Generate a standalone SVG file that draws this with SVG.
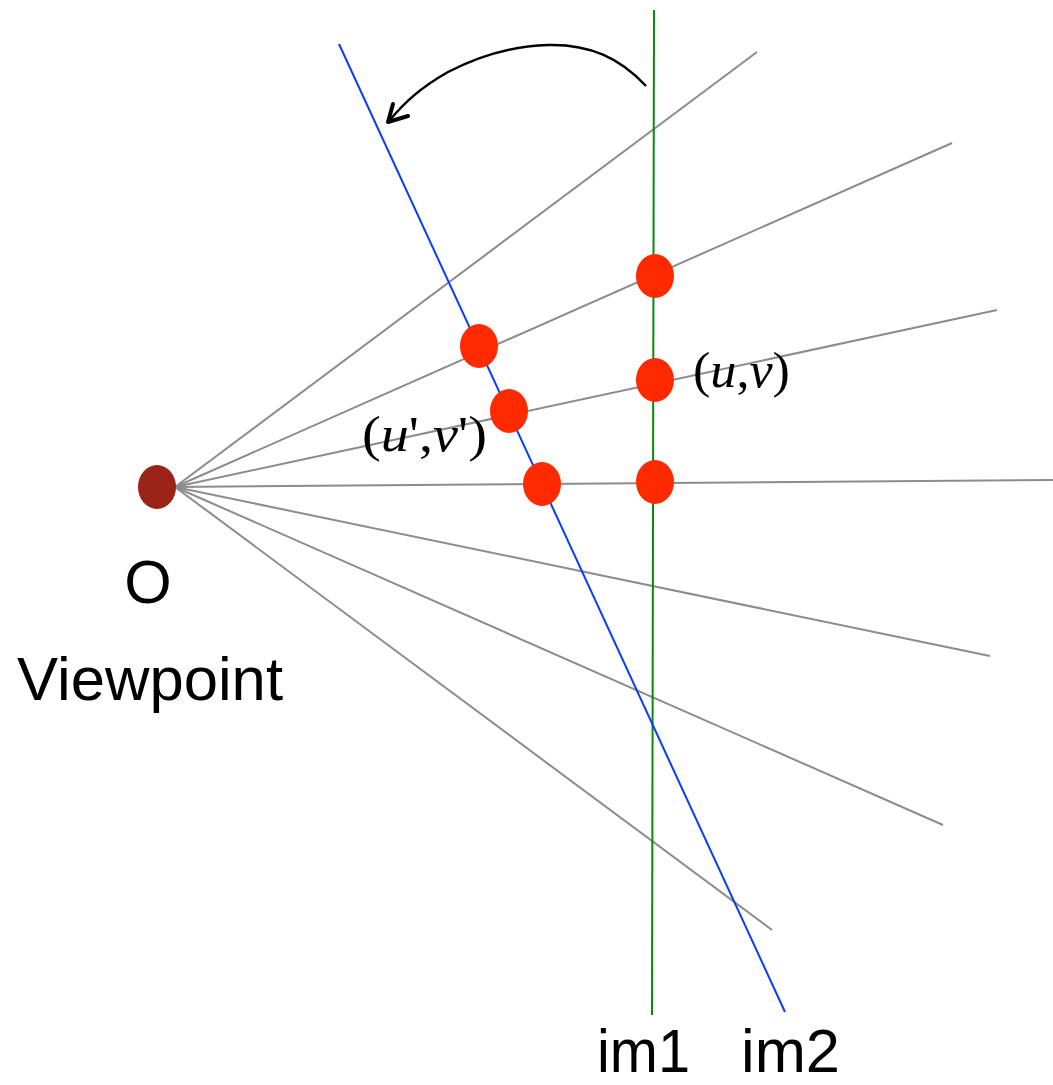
<svg xmlns="http://www.w3.org/2000/svg" width="1053" height="1085" viewBox="0 0 1053 1085">
<style>
.ray{stroke:#8c8c8c;stroke-width:2;fill:none}
.pt{fill:#ff2a00}
.lbl{font-family:"Liberation Sans",Arial,sans-serif;font-size:61px;fill:#000}
.math{font-family:"Liberation Serif","Times New Roman",serif;font-size:50px;fill:#000}
</style>
<rect width="1053" height="1085" fill="#fff"/>
<g id="connectors">
<line class="ray" x1="175" y1="487" x2="757" y2="52"/>
<line class="ray" x1="175" y1="487" x2="952" y2="143"/>
<line class="ray" x1="175" y1="487" x2="997" y2="310"/>
<line class="ray" x1="175" y1="487" x2="1053" y2="480"/>
<line class="ray" x1="175" y1="487" x2="990" y2="656"/>
<line class="ray" x1="175" y1="487" x2="943" y2="825"/>
<line class="ray" x1="175" y1="487" x2="772" y2="930"/>
<line id="im1-line" x1="654" y1="10" x2="652" y2="1015" stroke="#0a8a0a" stroke-width="2"/>
<line id="im2-line" x1="339" y1="44" x2="785" y2="1012" stroke="#0a3cff" stroke-width="2"/>
<path id="rotation-arrow" d="M646,86 C620,58 590,44 548,45 C510,46 475,58 448,72 C420,88 405,102 389,121" fill="none" stroke="#000" stroke-width="2.5"/>
<path d="M393,104 L388,122 L408,116" fill="none" stroke="#000" stroke-width="4" stroke-linecap="round" stroke-linejoin="round"/>
</g>
<g id="viewpoint"><ellipse cx="157" cy="487" rx="19" ry="22" fill="#9b2318"/></g>
<g id="p1"><ellipse class="pt" cx="655" cy="276" rx="19" ry="22"/></g>
<g id="p2"><ellipse class="pt" cx="479" cy="346" rx="19" ry="22"/></g>
<g id="p3"><ellipse class="pt" cx="655" cy="380" rx="19" ry="22"/></g>
<g id="p4"><ellipse class="pt" cx="509" cy="411" rx="19" ry="22"/></g>
<g id="p5"><ellipse class="pt" cx="542" cy="484" rx="19" ry="22"/></g>
<g id="p6"><ellipse class="pt" cx="655" cy="482" rx="19" ry="22"/></g>
<g id="labels">
<text class="math" x="693" y="387" textLength="97" lengthAdjust="spacingAndGlyphs">(<tspan font-style="italic">u</tspan>,<tspan font-style="italic">v</tspan>)</text>
<text class="math" x="362" y="451" textLength="125" lengthAdjust="spacingAndGlyphs">(<tspan font-style="italic">u</tspan>',<tspan font-style="italic">v</tspan>')</text>
<text class="lbl" x="148" y="603" text-anchor="middle">O</text>
<text class="lbl" x="17" y="700" textLength="266" lengthAdjust="spacingAndGlyphs">Viewpoint</text>
<text class="lbl" x="597" y="1072" font-size="58" textLength="93" lengthAdjust="spacingAndGlyphs">im1</text>
<text class="lbl" x="741" y="1072" font-size="58" textLength="99" lengthAdjust="spacingAndGlyphs">im2</text>
</g>
</svg>
